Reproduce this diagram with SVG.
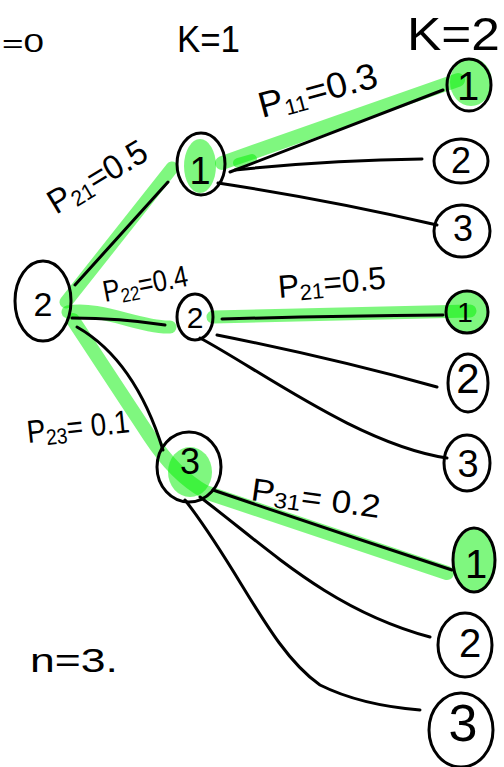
<svg xmlns="http://www.w3.org/2000/svg" width="504" height="767" viewBox="0 0 504 767">
  <style>
    .hl { fill: none; stroke: #00f000; stroke-opacity: 0.5; stroke-linecap: round; stroke-linejoin: round; }
    .hlfill { fill: #00f000; fill-opacity: 0.5; stroke: none; }
    .edge { fill: none; stroke: #000; stroke-width: 3; stroke-linecap: round; stroke-linejoin: round; }
    .ring { fill: none; stroke: #000; stroke-width: 3; }
    .lbl { font-family: "Liberation Sans", "DejaVu Sans", sans-serif; fill: #000; }
    .num { font-family: "Liberation Sans", "DejaVu Sans", sans-serif; fill: #000; text-anchor: middle; }
  </style>

  <rect width="504" height="767" fill="#fff"/>

  <!-- highlighted best path marks -->
  <g id="highlight">
    <path class="hl" stroke-width="13" d="M66,302 L172,168"/>
    <path class="hl" stroke-width="14" d="M222,163 L458,80"/>
    <path class="hl" stroke-width="10" d="M238,163 L252,159"/>
    <path class="hl" stroke-width="13" d="M68,312 C100,306 140,328 170,327 M213,317 L470,311"/>
    <path class="hl" stroke-width="14" d="M73,320 L150,437 Q175,475 205,492 L447,573"/>
    <ellipse class="hlfill" cx="200" cy="166" rx="16" ry="27"/>
    <ellipse class="hlfill" cx="190" cy="472" rx="22" ry="25"/>
    <ellipse class="hlfill" cx="471" cy="82" rx="21" ry="24"/>
    <ellipse class="hlfill" cx="467" cy="312" rx="20" ry="21"/>
    <ellipse class="hlfill" cx="475" cy="561" rx="21" ry="32"/>
  </g>

  <!-- transitions -->
  <g id="connectors">
    <path class="edge" d="M75,285 L168,182"/>
    <path class="edge" d="M72,318 Q120,318 165,325"/>
    <path class="edge" d="M77,327 Q135,360 163,450"/>
    <path class="edge" d="M230,172 L443,90"/>
    <path class="edge" d="M235,170 Q330,160 422,159"/>
    <path class="edge" d="M218,183 Q330,200 437,225"/>
    <path class="edge" d="M222,319 Q330,316 443,315"/>
    <path class="edge" d="M217,335 Q333,358 437,387"/>
    <path class="edge" d="M200,338 C260,370 360,445 447,458"/>
    <path class="edge" d="M213,490 Q330,530 452,570"/>
    <path class="edge" d="M200,497 C270,550 330,610 430,637"/>
    <path class="edge" d="M185,500 C240,570 270,650 320,685 Q360,705 420,710"/>
  </g>

  <!-- stage headings -->
  <g id="headings">
    <text class="lbl" x="2" y="52" font-size="26" textLength="42" lengthAdjust="spacingAndGlyphs">=0</text>
    <text class="lbl" x="177" y="52" font-size="36" textLength="63" lengthAdjust="spacingAndGlyphs">K=1</text>
    <text class="lbl" x="407" y="50" font-size="46" textLength="93" lengthAdjust="spacingAndGlyphs">K=2</text>
  </g>

  <!-- transition probabilities -->
  <g id="probabilities">
    <text class="lbl" font-size="36" transform="translate(262,118) rotate(-15)" textLength="122" lengthAdjust="spacingAndGlyphs">P<tspan font-size="22" dy="4">11</tspan><tspan dy="-4">=0.3</tspan></text>
    <text class="lbl" font-size="34" transform="translate(56,215) rotate(-31)" textLength="110" lengthAdjust="spacingAndGlyphs">P<tspan font-size="22" dy="4">21</tspan><tspan dy="-4">=0.5</tspan></text>
    <text class="lbl" font-size="30" transform="translate(105,302) rotate(-11)" textLength="86" lengthAdjust="spacingAndGlyphs">P<tspan font-size="20" dy="4">22</tspan><tspan dy="-4">=0.4</tspan></text>
    <text class="lbl" font-size="32" transform="translate(279,298) rotate(-5)" textLength="108" lengthAdjust="spacingAndGlyphs">P<tspan font-size="22" dy="4">21</tspan><tspan dy="-4">=0.5</tspan></text>
    <text class="lbl" font-size="32" transform="translate(28,443) rotate(-6)" textLength="103" lengthAdjust="spacingAndGlyphs">P<tspan font-size="22" dy="4">23</tspan><tspan dy="-4">= 0.1</tspan></text>
    <text class="lbl" font-size="32" transform="translate(250,500) rotate(8)" textLength="130" lengthAdjust="spacingAndGlyphs">P<tspan font-size="22" dy="4">31</tspan><tspan dy="-4">=  0.2</tspan></text>
  </g>

  <text id="note" class="lbl" x="30" y="672" font-size="34" textLength="88" lengthAdjust="spacingAndGlyphs">n=3.</text>

  <!-- states -->
  <g id="n0-2"><ellipse class="ring" cx="43" cy="301" rx="28" ry="40"/><text class="num" x="43" y="316" font-size="34">2</text></g>

  <g id="n1-1"><ellipse class="ring" cx="201" cy="164" rx="24" ry="31"/><text class="num" x="200" y="184" font-size="38">1</text></g>
  <g id="n1-2"><ellipse class="ring" cx="195" cy="317" rx="18" ry="23"/><text class="num" x="195" y="328" font-size="30">2</text></g>
  <g id="n1-3"><ellipse class="ring" cx="189" cy="467" rx="32" ry="35"/><text class="num" x="190" y="474" font-size="36">3</text></g>

  <g id="n2-1a"><ellipse class="ring" cx="469" cy="85" rx="22" ry="26"/><text class="num" x="468" y="100" font-size="40">1</text></g>
  <g id="n2-2a"><ellipse class="ring" cx="461" cy="161" rx="27" ry="22"/><text class="num" x="461" y="173" font-size="36">2</text></g>
  <g id="n2-3a"><ellipse class="ring" cx="462" cy="231" rx="28" ry="26"/><text class="num" x="463" y="241" font-size="36">3</text></g>

  <g id="n2-1b"><ellipse class="ring" cx="467" cy="312" rx="21" ry="21"/><text class="num" x="465" y="322" font-size="28">1</text></g>
  <g id="n2-2b"><ellipse class="ring" cx="468" cy="383" rx="20" ry="29"/><text class="num" x="468" y="393" font-size="42">2</text></g>
  <g id="n2-3b"><ellipse class="ring" cx="467" cy="463" rx="23" ry="28"/><text class="num" x="468" y="477" font-size="38">3</text></g>

  <g id="n2-1c"><ellipse class="ring" cx="474" cy="560" rx="21" ry="32"/><text class="num" x="476" y="578" font-size="40">1</text></g>
  <g id="n2-2c"><ellipse class="ring" cx="465" cy="645" rx="27" ry="32"/><text class="num" x="470" y="657" font-size="40">2</text></g>
  <g id="n2-3c"><ellipse class="ring" cx="461" cy="730" rx="32" ry="37"/><text class="num" x="463" y="741" font-size="52">3</text></g>
</svg>
